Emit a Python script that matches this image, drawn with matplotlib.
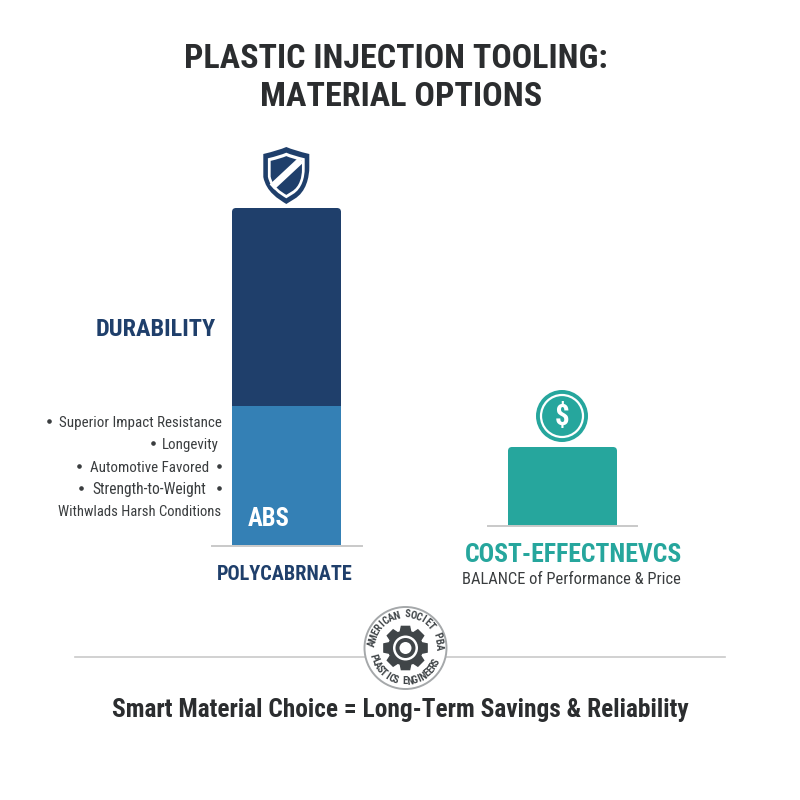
import numpy as np
import matplotlib
matplotlib.use('Agg')
import matplotlib.pyplot as plt
from matplotlib.patches import Circle, FancyBboxPatch, PathPatch, Polygon
from matplotlib.path import Path

# Roboto Condensed is not on the promised font list, so plain Roboto stays as fallback;
# fit_text below keeps the widths right with either one
plt.rcParams['font.family'] = ['Roboto Condensed', 'Roboto', 'DejaVu Sans']

# values are read in pixels off the picture
abs_height = 139
polycarbonate_height = 198
cost_height = 79

title_lines = ['PLASTIC INJECTION TOOLING:', 'MATERIAL OPTIONS']
left_label = 'DURABILITY'
left_name = 'POLYCABRNATE'
inner_label = 'ABS'
right_label = 'COST-EFFECTNEVCS'
right_sub = 'BALANCE of Performance & Price'
footer = 'Smart Material Choice = Long-Term Savings & Reliability'
list_labels = ['Superior Impact Resistance', 'Longevity', 'Automotive Favored',
               'Strength-to-Weight', 'Withwlads Harsh Conditions']
badge_top = 'AMERICAN SOCIET PBA'
badge_bottom = 'PLASTICS ENGINEERS'

NAVY = '#1f3f6b'
BLUE = '#3480b5'
TEAL = '#26a69d'
DARK = '#2b2d2f'
TEXT = '#3a3d3f'
GREY = '#c9c9c9'
GEAR = '#404548'


def fit_text(ax, x0, x1, y, s, **kw):
    # start from a guess, then scale the font so the text spans x0..x1
    t = ax.text((x0 + x1) / 2, y + 1.5, s, fontsize=20, ha='center', va='center', **kw)
    w = t.get_window_extent(ax.figure.canvas.get_renderer()).width
    t.set_fontsize(20 * (x1 - x0) / w)
    return t


def draw_shield(ax, cx, top, scale, color):
    verts = [(0, 0), (8, 3.5), (23, 7), (23, 7),
             (23, 20), (23, 20), (23, 30), (20, 45), (8, 52), (0, 57),
             (-8, 52), (-20, 45), (-23, 30), (-23, 20), (-23, 20),
             (-23, 7), (-23, 7), (-8, 3.5), (0, 0), (0, 0)]
    codes = [Path.MOVETO, Path.CURVE3, Path.CURVE3, Path.LINETO,
             Path.LINETO, Path.LINETO, Path.CURVE4, Path.CURVE4, Path.CURVE4, Path.LINETO,
             Path.CURVE4, Path.CURVE4, Path.CURVE4, Path.LINETO, Path.LINETO,
             Path.LINETO, Path.LINETO, Path.CURVE3, Path.CURVE3, Path.LINETO]
    pts = [(cx + vx * scale, top + 28.5 + (vy - 28.5) * scale) for vx, vy in verts]
    ax.add_patch(PathPatch(Path(pts, codes), facecolor=color, edgecolor='none'))


def draw_gear(ax, cx, cy, r_out, r_in, teeth, color):
    angles = []
    radii = []
    step = 2 * np.pi / teeth
    for i in range(teeth):
        a = i * step - np.pi / 2
        for da, r in [(-0.5, r_in), (-0.3, r_out), (0.3, r_out), (0.5, r_in)]:
            angles.append(a + da * step * 0.8)
            radii.append(r)
    pts = np.column_stack([cx + np.array(radii) * np.cos(angles),
                           cy + np.array(radii) * np.sin(angles)])
    ax.add_patch(Polygon(pts, closed=True, facecolor=color, edgecolor=color, lw=1, zorder=6))


def arc_text(ax, s, cx, cy, r, start, end, bottom=False):
    # one text per letter, turned to follow the ring (y runs downward here)
    for ch, a in zip(s, np.linspace(start, end, len(s))):
        rad = np.deg2rad(a)
        rot = -a + 90 if bottom else -a - 90
        ax.text(cx + r * np.cos(rad), cy + r * np.sin(rad), ch, fontsize=7.5, fontweight='bold',
                color=GEAR, rotation=rot, rotation_mode='anchor',
                ha='center', va='center', zorder=7)


fig = plt.figure(figsize=(8, 8), dpi=100)
ax = fig.add_axes([0, 0, 1, 1])
ax.set_xlim(0, 800)
ax.set_ylim(800, 0)
ax.axis('off')

# title
fit_text(ax, 184, 608, 58, title_lines[0], fontweight='bold', color=DARK)
fit_text(ax, 260, 542, 96, title_lines[1], fontweight='bold', color=DARK)

# left stacked bar, y axis runs downward so heights go negative from the baseline
ax.bar(232, -abs_height, width=109, bottom=545, align='edge', color=BLUE, linewidth=0)
ax.bar(232, -(polycarbonate_height - 4), width=109, bottom=545 - abs_height, align='edge',
       color=NAVY, linewidth=0)
ax.add_patch(FancyBboxPatch((236, 545 - abs_height - polycarbonate_height + 4), 101, 8,
                            boxstyle='round,pad=4,rounding_size=4', facecolor=NAVY, edgecolor='none'))
ax.plot([212, 362], [545.5, 545.5], color=GREY, lw=1.4)

# shield icon
draw_shield(ax, 286.3, 147, 1.0, NAVY)
draw_shield(ax, 286.3, 147, 0.80, 'white')
draw_shield(ax, 286.3, 147, 0.68, NAVY)
ax.plot([272, 301], [187, 160], color='white', lw=5, solid_capstyle='butt')

fit_text(ax, 96, 216, 328, left_label, fontweight='bold', color=NAVY)
fit_text(ax, 248, 290, 517, inner_label, fontweight='bold', color='white')
fit_text(ax, 217, 353, 573, left_name, fontweight='bold', color=NAVY)

# bullet list
list_spans = [(59, 221, 421, [49]),
              (162, 219, 443, [153]),
              (90, 209, 466, [79, 219]),
              (92, 206, 488, [81, 219]),
              (58, 221, 510, [])]
for label, (x0, x1, y, dots) in zip(list_labels, list_spans):
    fit_text(ax, x0, x1, y, label, color=TEXT)
    for dx in dots:
        ax.plot(dx, y, 'o', color=TEXT, ms=2.3)

# right bar
ax.bar(508, -(cost_height - 4), width=109, bottom=526, align='edge', color=TEAL, linewidth=0)
ax.add_patch(FancyBboxPatch((512, 526 - cost_height + 4), 101, 8,
                            boxstyle='round,pad=4,rounding_size=4', facecolor=TEAL, edgecolor='none'))
ax.plot([488, 637], [526, 526], color=GREY, lw=1.4)

# coin icon
ax.add_patch(Circle((562, 416), 26, facecolor=TEAL, edgecolor='none'))
ax.add_patch(Circle((562, 416), 21, facecolor='none', edgecolor='white', lw=1.6))
ax.text(562, 417, '$', fontsize=21, fontweight='bold', color='white', ha='center', va='center')

fit_text(ax, 465, 683, 553, right_label, fontweight='bold', color=TEAL)
fit_text(ax, 462, 681, 578, right_sub, color=TEXT)

# divider and badge
ax.plot([75, 725], [657, 657], color=GREY, lw=1.2, zorder=1)
ax.add_patch(Circle((405.5, 648), 41, facecolor='white', edgecolor='#a5a8aa', lw=1.4, zorder=4))
arc_text(ax, badge_top, 405.5, 648, 33.5, -172, -2)
arc_text(ax, badge_bottom, 405.5, 648, 33.5, 165, 25, bottom=True)
draw_gear(ax, 405.5, 648, 22, 17, 8, GEAR)
ax.add_patch(Circle((405.5, 648), 12.5, facecolor='white', edgecolor='none', zorder=7))
ax.add_patch(Circle((405.5, 648), 10, facecolor=GEAR, edgecolor='none', zorder=7))
ax.add_patch(Circle((405.5, 648), 6, facecolor='white', edgecolor='none', zorder=7))

fit_text(ax, 112, 689, 708, footer, fontweight='bold', color=DARK)

fig.savefig('out.png', dpi=100, facecolor='white')
